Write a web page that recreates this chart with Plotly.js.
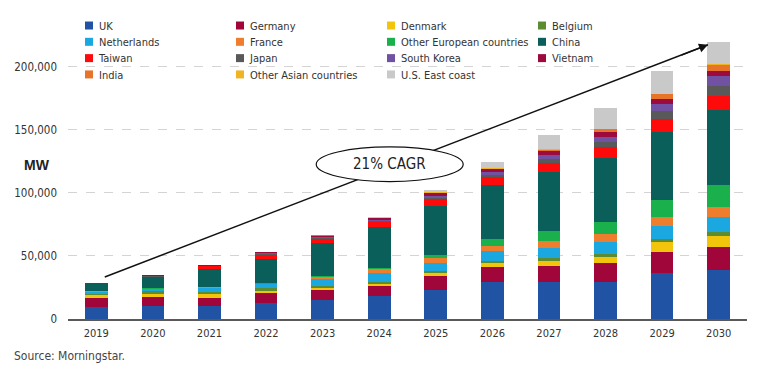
<!DOCTYPE html>
<html>
<head>
<meta charset="utf-8">
<script src="https://cdn.plot.ly/plotly-3.0.1.min.js"></script>
<style>
html,body{margin:0;padding:0;background:#fff;}
#chart{width:758px;height:371px;}
.legend .traces .legendtext{transform:translate(-10px,0px);}
.legend .traces:nth-child(n+5) .legendtext{transform:translate(-10px,-2.7px);}
.legend .traces:nth-child(n+5) .layers{transform:translate(0px,-2.7px);}
.legend .traces:nth-child(n+9) .legendtext{transform:translate(-10px,-5.4px);}
.legend .traces:nth-child(n+9) .layers{transform:translate(0px,-5.4px);}
.legend .traces:nth-child(n+13) .legendtext{transform:translate(-10px,-8.1px);}
.legend .traces:nth-child(n+13) .layers{transform:translate(0px,-8.1px);}
</style>
</head>
<body>
<div id="chart"></div>
<script>
// Data (MW)
const years = ['2019','2020','2021','2022','2023','2024','2025','2026','2027','2028','2029','2030'];
const uk           = [9500, 10300, 10000, 12700, 14800, 17900, 23300, 29400, 29400, 29400, 36300, 38700];
const germany      = [7400, 6900, 6900, 7600, 7900, 8500, 11100, 11900, 12900, 15100, 17100, 18500];
const denmark      = [1800, 2700, 2600, 2100, 2100, 1600, 2400, 3200, 3700, 5000, 7500, 8500];
const belgium      = [1300, 2100, 1600, 1800, 1600, 1300, 1300, 1800, 2600, 2400, 2600, 3200];
const netherlands  = [1800, 1900, 3700, 3200, 5000, 7100, 6100, 7400, 7400, 9500, 10600, 12100];
const france       = [100, 200, 300, 400, 1600, 3400, 4200, 4500, 5900, 6300, 7100, 8200];
const otherEurope  = [0, 100, 200, 400, 1300, 400, 2400, 5300, 7900, 9300, 13300, 17000];
const china        = [6300, 9200, 14500, 19500, 25600, 33100, 38900, 42500, 46500, 50800, 54200, 59800];
const taiwan       = [100, 300, 1900, 2700, 3500, 3700, 5300, 6300, 7500, 8700, 10300, 11100];
const japan        = [0, 300, 300, 800, 900, 800, 1300, 2100, 3200, 4000, 5600, 7400];
const southKorea   = [100, 300, 300, 800, 900, 1000, 1600, 2400, 3200, 4000, 6100, 8500];
const vietnam      = [100, 300, 400, 800, 900, 1000, 1900, 2100, 2900, 3700, 4000, 4000];
const india        = [0, 0, 0, 0, 200, 400, 400, 400, 1300, 2100, 3700, 4300];
const otherAsia    = [0, 0, 0, 0, 100, 200, 200, 200, 200, 200, 200, 1000];
const usEastCoast  = [0, 0, 0, 200, 300, 800, 2000, 5200, 11300, 17200, 17700, 17100];

const seriesNames = ['UK','Germany','Denmark','Belgium','Netherlands','France','Other European countries','China','Taiwan','Japan','South Korea','Vietnam','India','Other Asian countries','U.S. East coast'];
const seriesValues = [uk, germany, denmark, belgium, netherlands, france, otherEurope, china, taiwan, japan, southKorea, vietnam, india, otherAsia, usEastCoast];
const seriesColors = ['#2053a4','#a0063a','#f2c40c','#5b8c31','#1ba8e0','#ef7d2e','#1ab14c','#0b5f5b','#ff0a0a','#595959','#7151a1','#9c0a3e','#e8742a','#f0b323','#c9c9c9'];

// CAGR annotation anchors (data coordinates)
const cagrLabel = '21% CAGR';
const arrowStart = {x: 0.15, y: 33300};
const arrowEnd = {x: 10.81, y: 217500};

const FONT = '"Liberation Sans Narrow","DejaVu Sans Condensed",Roboto,sans-serif';

const barTraces = seriesNames.map((n, i) => ({
  type: 'bar',
  name: n,
  x: years,
  y: seriesValues[i],
  marker: {color: seriesColors[i], line: {width: 0}},
  hoverinfo: 'skip',
  showlegend: false,
  legendgroup: n
}));
// legend-only entries with small square swatches
const legendTraces = seriesNames.map((n, i) => ({
  type: 'scatter', mode: 'markers',
  name: n, x: [null], y: [null],
  marker: {symbol: 'square', size: 8, color: seriesColors[i]},
  showlegend: true, legendgroup: n, hoverinfo: 'skip'
}));

const layout = {
  width: 758, height: 371,
  margin: {l: 68, r: 11, t: 29, b: 52},
  paper_bgcolor: '#fff', plot_bgcolor: '#fff',
  barmode: 'stack',
  bargap: 0.6,
  font: {family: FONT, size: 11, color: '#333'},
  showlegend: true,
  legend: {
    orientation: 'h', traceorder: 'normal',
    x: 0.0015, xanchor: 'left', y: 1.062, yanchor: 'top',
    entrywidth: 106, entrywidthmode: 'pixels',
    itemwidth: 30,
    font: {family: FONT, size: 11, color: '#333'},
    bgcolor: 'rgba(0,0,0,0)', tracegroupgap: 0
  },
  xaxis: {
    type: 'category',
    showline: true, linecolor: '#595959', linewidth: 1.5,
    ticks: '', showgrid: false, zeroline: false,
    tickfont: {family: FONT, size: 11, color: '#333'},
    ticklabelstandoff: 3,
    range: [-0.5, 11.5]
  },
  yaxis: {
    range: [0, 230000],
    tickvals: [0, 50000, 100000, 150000, 200000],
    tickformat: ',d',
    showgrid: true, gridcolor: '#d4d4d4', griddash: 'dash', gridwidth: 1,
    zeroline: false, showline: false, ticks: '',
    tickfont: {family: FONT, size: 11.5, color: '#333'},
    ticklabelstandoff: 10
  },
  shapes: [
    {type: 'line', xref: 'x', yref: 'y', x0: arrowStart.x, y0: arrowStart.y, x1: arrowEnd.x, y1: arrowEnd.y,
     line: {color: '#111', width: 1.5}, layer: 'above'},
    {type: 'circle', xref: 'x', yref: 'y', x0: 3.887, x1: 6.484, y0: 109000, y1: 136500,
     line: {color: '#111', width: 1.2}, fillcolor: '#fff', layer: 'above'}
  ],
  annotations: [
    {xref: 'x', yref: 'y', x: arrowEnd.x, y: arrowEnd.y, ax: -28, ay: 11, axref: 'pixel', ayref: 'pixel',
     showarrow: true, arrowhead: 2, arrowsize: 1.2, arrowwidth: 1.5, arrowcolor: '#111', text: ''},
    {xref: 'x', yref: 'y', x: 5.185, y: 122700, text: cagrLabel, showarrow: false,
     font: {family: FONT, size: 15, color: '#222'}},
    {xref: 'paper', yref: 'paper', x: -0.068, y: 0.53, xanchor: 'left', text: '<b>MW</b>', showarrow: false,
     font: {family: '"Liberation Sans",Arial,sans-serif', size: 14, color: '#222'}},
    {xref: 'paper', yref: 'paper', x: -0.082, y: -0.097, xanchor: 'left', yanchor: 'top', text: 'Source: Morningstar.', showarrow: false,
     font: {family: FONT, size: 12, color: '#444'}}
  ]
};

Plotly.newPlot('chart', barTraces.concat(legendTraces), layout, {displayModeBar: false, staticPlot: true});
</script>
</body>
</html>
